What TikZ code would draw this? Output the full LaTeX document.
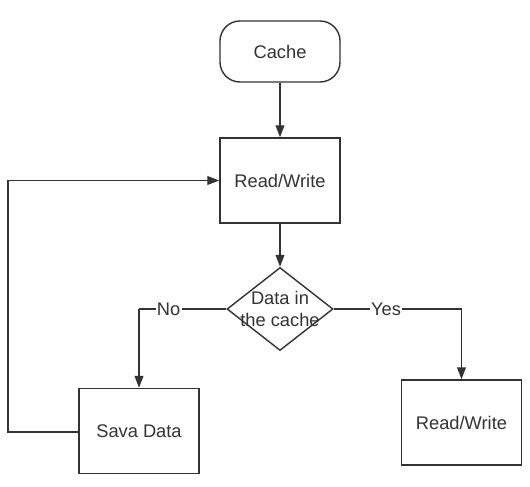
\documentclass[tikz,border=0pt]{standalone}
\usepackage{fontspec}
\setmainfont{Liberation Sans}
\usetikzlibrary{arrows.meta, shapes.geometric}

\definecolor{inkgray}{HTML}{333333}
\tikzset{
    flowline/.style={draw=inkgray, line width=1pt, -{Triangle[length=0.3cm,width=0.22cm]}},
    plainline/.style={draw=inkgray, line width=1pt},
    stepbox/.style={draw=inkgray, line width=1pt, rectangle, minimum width=3cm, minimum height=2.125cm},
    terminal/.style={draw=inkgray, line width=1pt, rectangle, rounded corners=0.5cm, minimum width=3cm, minimum height=1.525cm},
    decision/.style={draw=inkgray, line width=1pt, diamond, inner sep=0pt, minimum width=2.65cm, minimum height=2.075cm},
    branchlabel/.style={fill=white, inner sep=1pt, text=inkgray}
}

\begin{document}
\begin{tikzpicture}[x=0.025cm, y=-0.025cm, font=\fontsize{13}{15.6}\selectfont, text=inkgray]
    \useasboundingbox[fill=white] (0,0) rectangle (530,486);

    \node[terminal] (cache) at (280,51.5) {Cache};
    \node[stepbox] (rw) at (280,180.5) {Read/Write};
    \node[decision] (incache) at (280,309) {};
    \node[align=center] (incachetext) at (incache.center) {Data in\\the cache};
    \node[stepbox] (save) at (139,431) {Sava Data};
    \node[stepbox] (rwhit) at (461.5,422.5) {Read/Write};

    \coordinate (nocorner) at (139,309);
    \coordinate (yescorner) at (461.5,309);
    \coordinate (loopbottom) at (8,432);
    \coordinate (looptop) at (8,180.5);

    \draw[flowline] (cache) -- (rw);
    \draw[flowline] (rw) -- (incache);
    \draw[plainline] (incache.west) -- node[branchlabel, pos=0.66] (nolabel) {No} (nocorner);
    \draw[flowline] (nocorner) -- (save);
    \draw[plainline] (incache.east) -- node[branchlabel, pos=0.41] (yeslabel) {Yes} (yescorner);
    \draw[flowline] (yescorner) -- (rwhit);
    \draw[flowline] (save.west |- loopbottom) -- (loopbottom) -- (looptop) -- (rw.west);
\end{tikzpicture}
\end{document}
